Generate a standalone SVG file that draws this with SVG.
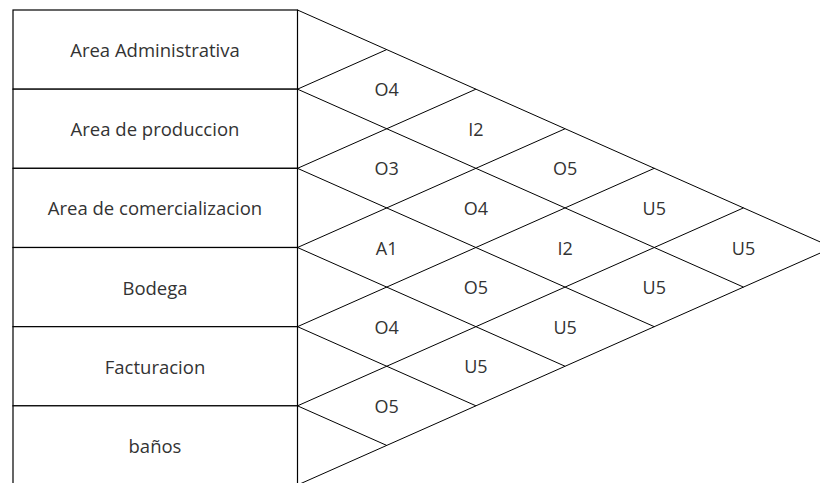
<svg xmlns="http://www.w3.org/2000/svg" width="820" height="483" viewBox="0 0 820 483">
<style>
.box{fill:#fff;stroke:#000;stroke-width:1.2}
.ln{stroke:#000;stroke-width:1;fill:none}
.lbl{font-family:"Open Sans","Liberation Sans",sans-serif;font-size:18.5px;fill:#333;text-anchor:middle}
.rel{font-family:"Open Sans","Liberation Sans",sans-serif;font-size:18px;fill:#333;text-anchor:middle}
</style>
<rect width="820" height="483" fill="#fff"/>
<g id="connectors">
<path class="ln" d="M297.5,10 L832.7,247.5 L297.5,485"/>
<path class="ln" d="M297.5,89.17 L743.5,287.1 M297.5,168.33 L654.3,326.7 M297.5,247.5 L565.1,366.25 M297.5,326.67 L475.9,405.8 M297.5,405.83 L386.7,445.4"/>
<path class="ln" d="M297.5,89.17 L386.7,49.6 M297.5,168.33 L475.9,89.2 M297.5,247.5 L565.1,128.75 M297.5,326.67 L654.3,168.3 M297.5,405.83 L743.5,207.9"/>
</g>
<g id="row-admin"><rect class="box" x="13" y="10" width="284.5" height="79.17"/><text class="lbl" x="155" y="57">Area Administrativa</text></g>
<g id="row-produccion"><rect class="box" x="13" y="89.17" width="284.5" height="79.17"/><text class="lbl" x="155" y="136.2">Area de produccion</text></g>
<g id="row-comercializacion"><rect class="box" x="13" y="168.33" width="284.5" height="79.17"/><text class="lbl" x="155" y="215.4">Area de comercializacion</text></g>
<g id="row-bodega"><rect class="box" x="13" y="247.5" width="284.5" height="79.17"/><text class="lbl" x="155" y="294.6">Bodega</text></g>
<g id="row-facturacion"><rect class="box" x="13" y="326.67" width="284.5" height="79.17"/><text class="lbl" x="155" y="373.8">Facturacion</text></g>
<g id="row-banos"><rect class="box" x="13" y="405.83" width="284.5" height="79.17"/><text class="lbl" x="155" y="453">baños</text></g>
<g id="rel-1-2"><text class="rel" x="386.7" y="96.2">O4</text></g>
<g id="rel-1-3"><text class="rel" x="475.9" y="135.8">I2</text></g>
<g id="rel-2-3"><text class="rel" x="386.7" y="175.3">O3</text></g>
<g id="rel-1-4"><text class="rel" x="565.1" y="175.3">O5</text></g>
<g id="rel-2-4"><text class="rel" x="475.9" y="214.9">O4</text></g>
<g id="rel-1-5"><text class="rel" x="654.3" y="214.9">U5</text></g>
<g id="rel-3-4"><text class="rel" x="386.7" y="254.5">A1</text></g>
<g id="rel-2-5"><text class="rel" x="565.1" y="254.5">I2</text></g>
<g id="rel-1-6"><text class="rel" x="743.5" y="254.5">U5</text></g>
<g id="rel-3-5"><text class="rel" x="475.9" y="294.1">O5</text></g>
<g id="rel-2-6"><text class="rel" x="654.3" y="294.1">U5</text></g>
<g id="rel-4-5"><text class="rel" x="386.7" y="333.7">O4</text></g>
<g id="rel-3-6"><text class="rel" x="565.1" y="333.7">U5</text></g>
<g id="rel-4-6"><text class="rel" x="475.9" y="373.2">U5</text></g>
<g id="rel-5-6"><text class="rel" x="386.7" y="412.8">O5</text></g>
</svg>
